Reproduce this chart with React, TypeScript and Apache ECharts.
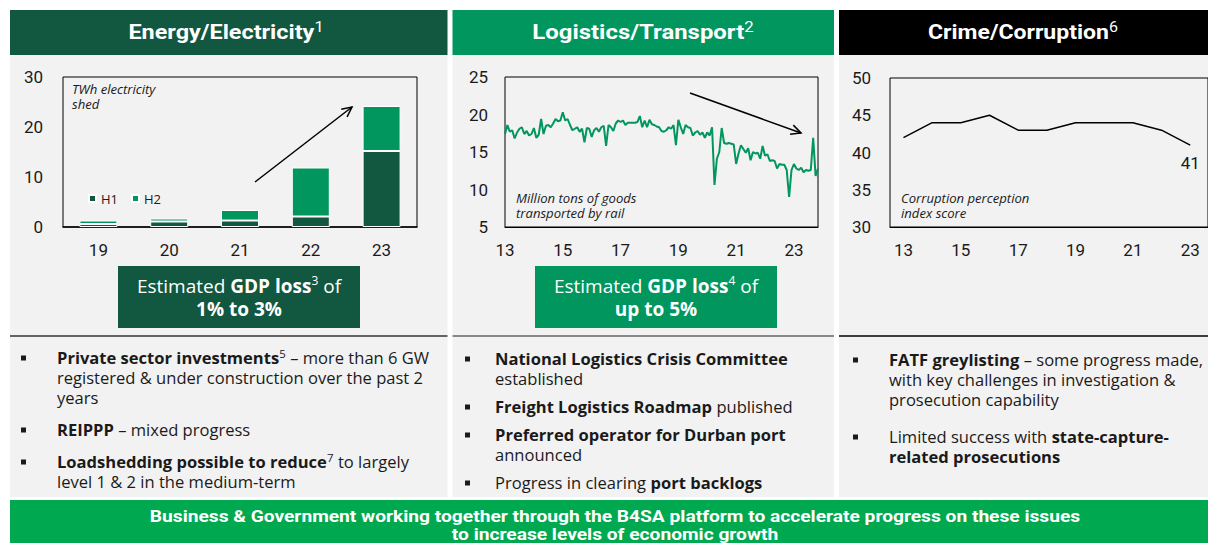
import React, { useEffect, useRef } from 'react';
import * as echarts from 'echarts';

// ---------- DATA ----------
const energyYears = ['19', '20', '21', '22', '23'];
const energyH1 = [0.6, 1.1, 1.3, 2.1, 15.2];
const energyH2 = [0.7, 0.6, 2.1, 9.8, 9.0];

const railStartYear = 2013;
const railTons = [
  17.4, 18.6, 17.7, 17.9, 16.8, 17.6, 18.1, 18.3, 17.4, 17.8, 17.2, 17.4,
  18.2, 16.9, 17.3, 19.4, 17.4, 18.5, 18.6, 18.3, 18.8, 19.4, 19.1, 19.2,
  20.3, 19.2, 19.4, 18.6, 17.9, 18.1, 18.3, 17.7, 18.1, 16.3, 18.2, 18.1,
  17.0, 17.9, 18.2, 17.7, 18.3, 18.5, 15.8, 18.6, 18.3, 17.8, 18.8, 19.2,
  19.0, 19.2, 18.6, 18.9, 18.9, 18.9, 18.9, 19.0, 19.8, 18.3, 19.2, 18.3,
  19.3, 18.7, 18.6, 18.4, 18.3, 17.8, 17.7, 17.9, 18.3, 18.1, 18.6, 15.9,
  19.3, 18.3, 17.4, 18.6, 18.3, 18.2, 17.2, 17.6, 17.8, 17.3, 17.6, 16.9,
  17.6, 17.2, 18.3, 10.6, 14.1, 15.0, 18.2, 16.2, 16.1, 16.2, 16.1, 16.0,
  13.4, 14.8, 15.9, 15.4, 14.9, 15.5, 13.9, 15.0, 14.8, 14.9, 14.1, 15.8,
  14.5, 14.7, 13.8, 13.9, 13.8, 12.8, 13.4, 13.3, 13.3, 12.6, 9.0, 12.6,
  13.4, 12.8, 12.6, 12.9, 12.3, 12.6, 12.5, 12.6, 16.9, 11.8, 12.8,
];
const railMonths = railTons.map(
  (_, i) => `${railStartYear + Math.floor(i / 12)}-${String((i % 12) + 1).padStart(2, '0')}`
);

const cpiYears = [13, 14, 15, 16, 17, 18, 19, 20, 21, 22, 23];
const cpiScores = [42, 44, 44, 45, 43, 43, 44, 44, 44, 43, 41];
const cpiTickYears = [13, 15, 17, 19, 21, 23];

const footerLines = [
  'Business & Government working together through the B4SA platform to accelerate progress on these issues',
  'to increase levels of economic growth',
];

// ---------- STYLE ----------
const DARK = '#12573F';
const MID = '#00965E';
const BRIGHT = '#00A94F';
const BG = '#F2F2F2';
const INK = '#1a1a1a';
const BODY = '"Open Sans", Roboto, sans-serif';
const AXIS = 'Roboto, "Open Sans", sans-serif';
const HEAD = 'Roboto, "Liberation Sans", sans-serif';

function measure(text: string, font: string) {
  const ctx = document.createElement('canvas').getContext('2d');
  if (!ctx) return 1;
  ctx.font = font;
  return ctx.measureText(text).width || 1;
}

const bodyRich = {
  n: { fontFamily: BODY, fontSize: 16, fill: INK, lineHeight: 20, verticalAlign: 'middle' },
  b: { fontFamily: BODY, fontSize: 16, fontWeight: 'bold', fill: INK, lineHeight: 20, verticalAlign: 'middle' },
  s: { fontFamily: BODY, fontSize: 11, fill: INK, lineHeight: 13, verticalAlign: 'top' },
};
const boxRich = {
  n: { fontFamily: BODY, fontSize: 19, fill: '#fff', lineHeight: 23, verticalAlign: 'middle' },
  b: { fontFamily: BODY, fontSize: 19, fontWeight: 'bold', fill: '#fff', lineHeight: 23, verticalAlign: 'middle' },
  s: { fontFamily: BODY, fontSize: 12, fill: '#fff', lineHeight: 15, verticalAlign: 'top' },
};
const headRich = {
  h: { fontFamily: HEAD, fontSize: 20, fontWeight: 'bold', fill: '#fff', lineHeight: 24, verticalAlign: 'middle' },
  s: { fontFamily: HEAD, fontSize: 14, fill: '#fff', lineHeight: 16, verticalAlign: 'top' },
};

function arrowEls(x1: number, y1: number, x2: number, y2: number) {
  const a = Math.atan2(y2 - y1, x2 - x1);
  const L = 11;
  const w = 0.45;
  const p1 = [x2 - L * Math.cos(a - w), y2 - L * Math.sin(a - w)];
  const p2 = [x2 - L * Math.cos(a + w), y2 - L * Math.sin(a + w)];
  return [
    { type: 'line', shape: { x1, y1, x2, y2 }, style: { stroke: '#000', lineWidth: 1.5 } },
    { type: 'polyline', shape: { points: [p1, [x2, y2], p2] }, style: { stroke: '#000', lineWidth: 1.5, fill: null } },
  ];
}

function bullet(x: number, cy: number) {
  return { type: 'rect', shape: { x, y: cy - 2.5, width: 5, height: 5 }, style: { fill: INK } };
}

function para(x: number, cy: number, text: string) {
  return {
    type: 'text',
    x,
    y: cy - 10,
    scaleX: 1.035,
    style: { x: 0, y: 0, text, rich: bodyRich, align: 'left', verticalAlign: 'top', fill: INK },
  };
}

function header(cx: number, main: string, sup: string, targetWidth: number) {
  const sx = targetWidth / measure(main, `bold 20px ${HEAD}`);
  return {
    type: 'text',
    x: cx,
    y: 32,
    scaleX: sx,
    style: {
      x: 0, y: 0, text: `{h|${main}}{s|${sup}}`, rich: headRich,
      align: 'center', verticalAlign: 'middle', fill: '#fff',
    },
  };
}

function note(x: number, y: number, text: string) {
  return {
    type: 'text',
    x,
    y,
    scaleX: 1.05,
    style: {
      x: 0, y: 0, text, align: 'left', verticalAlign: 'top', fill: INK,
      fontFamily: BODY, fontSize: 12.5, fontStyle: 'italic', lineHeight: 15,
    },
  };
}

export default function App() {
  const ref = useRef<HTMLDivElement>(null);

  useEffect(() => {
    if (!ref.current) return;
    const chart = echarts.init(ref.current, undefined, { renderer: 'svg' });

    const axisLabelBase = { fontFamily: AXIS, fontSize: 17, color: INK };
    const gridBase = { show: true, borderColor: '#000', borderWidth: 1, backgroundColor: 'transparent', containLabel: false };

    const footerFont = `bold 17px ${HEAD}`;
    const footerScale = 931 / measure(footerLines[0], footerFont);

    const elements: any[] = [
      // panel backgrounds
      { type: 'rect', z: -10, shape: { x: 10, y: 54, width: 437.5, height: 443 }, style: { fill: BG } },
      { type: 'rect', z: -10, shape: { x: 452.5, y: 54, width: 381.5, height: 443 }, style: { fill: BG } },
      { type: 'rect', z: -10, shape: { x: 839, y: 54, width: 369, height: 443 }, style: { fill: BG } },
      // headers
      { type: 'rect', shape: { x: 10, y: 10, width: 437.5, height: 45 }, style: { fill: DARK } },
      { type: 'rect', shape: { x: 452.5, y: 10, width: 381.5, height: 45 }, style: { fill: MID } },
      { type: 'rect', shape: { x: 839, y: 10, width: 369, height: 45 }, style: { fill: '#000' } },
      header(226, 'Energy/Electricity', '1', 186),
      header(643, 'Logistics/Transport', '2', 212),
      header(1023, 'Crime/Corruption', '6', 181),
      // chart notes
      note(72, 82, 'TWh electricity\nshed'),
      note(516, 191, 'Million tons of goods\ntransported by rail'),
      note(901, 191, 'Corruption perception\nindex score'),
      ...arrowEls(255, 182, 352, 107),
      ...arrowEls(690, 93, 801, 133),
      // GDP boxes
      { type: 'rect', shape: { x: 118, y: 266, width: 242, height: 62 }, style: { fill: DARK } },
      {
        type: 'text',
        style: {
          x: 239, y: 297.5, text: '{n|Estimated }{b|GDP loss}{s|3}{n| of}\n{b|1% to 3%}',
          rich: boxRich, align: 'center', verticalAlign: 'middle', fill: '#fff',
        },
      },
      { type: 'rect', shape: { x: 535, y: 266, width: 242, height: 62 }, style: { fill: MID } },
      {
        type: 'text',
        style: {
          x: 656, y: 297.5, text: '{n|Estimated }{b|GDP loss}{s|4}{n| of}\n{b|up to 5%}',
          rich: boxRich, align: 'center', verticalAlign: 'middle', fill: '#fff',
        },
      },
      // dividers
      { type: 'line', shape: { x1: 10, y1: 336, x2: 447.5, y2: 336 }, style: { stroke: '#333', lineWidth: 1.5 } },
      { type: 'line', shape: { x1: 452.5, y1: 336, x2: 834, y2: 336 }, style: { stroke: '#666', lineWidth: 1.5 } },
      { type: 'line', shape: { x1: 839, y1: 336, x2: 1208, y2: 336 }, style: { stroke: '#000', lineWidth: 1.5 } },
      // panel 1 bullets
      bullet(21, 358),
      para(57, 358, '{b|Private sector investments}{s|5}{n| – more than 6 GW}\n{n|registered & under construction over the past 2}\n{n|years}'),
      bullet(21, 430),
      para(57, 430, '{b|REIPPP}{n| – mixed progress}'),
      bullet(21, 462),
      para(57, 462, '{b|Loadshedding possible to reduce}{s|7}{n| to largely}\n{n|level 1 & 2 in the medium-term}'),
      // panel 2 bullets
      bullet(465, 359),
      para(495, 359, '{b|National Logistics Crisis Committee}\n{n|established}'),
      bullet(465, 407),
      para(495, 407, '{b|Freight Logistics Roadmap}{n| published}'),
      bullet(465, 435),
      para(495, 435, '{b|Preferred operator for Durban port}\n{n|announced}'),
      bullet(465, 483),
      para(495, 483, '{n|Progress in clearing }{b|port backlogs}'),
      // panel 3 bullets
      bullet(853, 360),
      para(889, 360, '{b|FATF greylisting}{n| – some progress made,}\n{n|with key challenges in investigation &}\n{n|prosecution capability}'),
      bullet(853, 437),
      para(889, 437, '{n|Limited success with }{b|state-capture-}\n{b|related prosecutions}'),
      // footer
      { type: 'rect', shape: { x: 10, y: 500, width: 1198, height: 43 }, style: { fill: BRIGHT } },
      {
        type: 'text',
        x: 615,
        y: 525,
        scaleX: footerScale,
        style: {
          x: 0, y: 0,
          text: footerLines.join('\n'),
          align: 'center', verticalAlign: 'middle', fill: '#fff',
          fontFamily: HEAD, fontSize: 17, fontWeight: 'bold', lineHeight: 18,
        },
      },
    ];

    const option: any = {
      animation: false,
      backgroundColor: '#fff',
      grid: [
        { ...gridBase, left: 63, top: 77, width: 354, height: 150 },
        { ...gridBase, left: 505, top: 77, width: 313, height: 150 },
        { ...gridBase, left: 890, top: 78, width: 322, height: 149 },
      ],
      legend: {
        data: ['H1', 'H2'],
        left: 83,
        top: 187,
        icon: 'rect',
        itemWidth: 7,
        itemHeight: 7,
        itemGap: 13,
        textStyle: { fontFamily: BODY, fontSize: 13, color: INK },
      },
      xAxis: [
        {
          type: 'category', gridIndex: 0, data: energyYears,
          axisTick: { show: false }, axisLine: { lineStyle: { color: '#000', width: 1.5 } },
          axisLabel: { ...axisLabelBase, margin: 14 },
        },
        {
          type: 'category', gridIndex: 1, data: railMonths, boundaryGap: false,
          axisTick: { show: false }, axisLine: { lineStyle: { color: '#000' } },
          axisLabel: {
            ...axisLabelBase, margin: 14,
            interval: (i: number) => i % 24 === 0,
            formatter: (v: string) => v.slice(2, 4),
          },
        },
        {
          type: 'value', gridIndex: 2, min: 12.53, max: 23.62,
          splitLine: { show: false }, axisTick: { show: false },
          axisLine: { lineStyle: { color: '#000' } },
          axisLabel: { ...axisLabelBase, margin: 14, customValues: cpiTickYears },
        },
      ],
      yAxis: [
        {
          type: 'value', gridIndex: 0, min: 0, max: 30, interval: 10,
          splitLine: { show: false }, axisLine: { show: false }, axisTick: { show: false },
          axisLabel: { ...axisLabelBase, margin: 20 },
        },
        {
          type: 'value', gridIndex: 1, min: 5, max: 25, interval: 5,
          splitLine: { show: false }, axisLine: { show: false }, axisTick: { show: false },
          axisLabel: { ...axisLabelBase, margin: 17 },
        },
        {
          type: 'value', gridIndex: 2, min: 30, max: 50, interval: 5,
          splitLine: { show: false }, axisLine: { show: false }, axisTick: { show: false },
          axisLabel: { ...axisLabelBase, margin: 19 },
        },
      ],
      series: [
        {
          name: 'H1', type: 'bar', xAxisIndex: 0, yAxisIndex: 0, stack: 'e', data: energyH1, barWidth: 38,
          itemStyle: { color: DARK, borderColor: '#fff', borderWidth: 1 },
        },
        {
          name: 'H2', type: 'bar', xAxisIndex: 0, yAxisIndex: 0, stack: 'e', data: energyH2, barWidth: 38,
          itemStyle: { color: MID, borderColor: '#fff', borderWidth: 1 },
        },
        {
          name: 'Rail', type: 'line', xAxisIndex: 1, yAxisIndex: 1, data: railTons,
          symbol: 'none', lineStyle: { color: MID, width: 2 }, itemStyle: { color: MID },
        },
        {
          name: 'CPI', type: 'line', xAxisIndex: 2, yAxisIndex: 2,
          symbol: 'circle', symbolSize: 0, showSymbol: true,
          lineStyle: { color: '#000', width: 1.5 }, itemStyle: { color: '#000' },
          data: cpiYears.map((y, i) =>
            i === cpiYears.length - 1
              ? {
                  value: [y, cpiScores[i]],
                  label: { show: true, position: 'bottom', distance: 9, fontFamily: AXIS, fontSize: 17, color: INK },
                }
              : [y, cpiScores[i]]
          ),
        },
      ],
      graphic: { elements },
    };

    chart.setOption(option);
    return () => chart.dispose();
  }, []);

  return (
    <div
      ref={ref}
      style={{ position: 'absolute', left: 0, top: 0, width: 1208, height: 543, background: '#fff' }}
    />
  );
}
